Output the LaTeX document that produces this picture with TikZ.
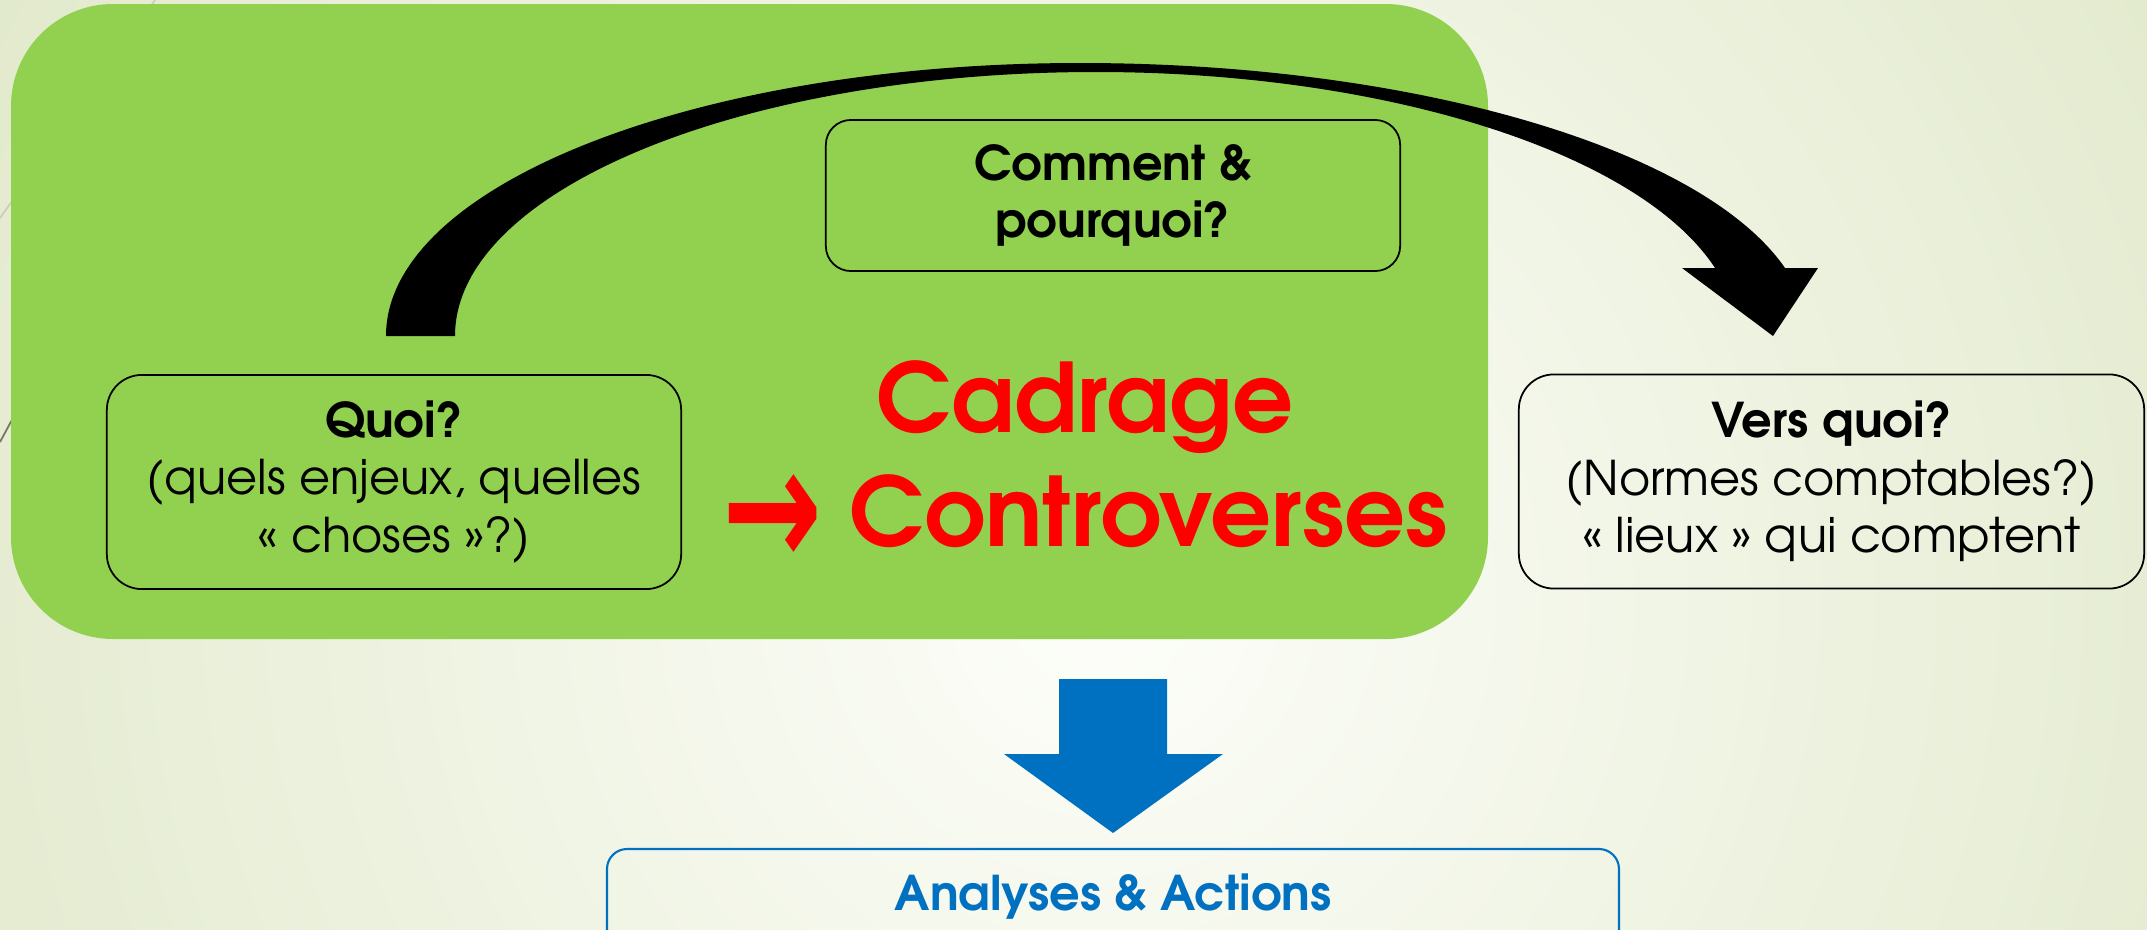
\documentclass[tikz,border=0pt]{standalone}
\usepackage{fontspec}
\setmainfont{TeX Gyre Adventor}
\newfontfamily\symbfont{DejaVu Sans}
\usetikzlibrary{positioning}

\definecolor{slidegreen}{HTML}{92D050}
\definecolor{slidered}{HTML}{FF0000}
\definecolor{slideblue}{HTML}{0070C0}
\definecolor{bgin}{HTML}{FDFEFA}
\definecolor{bgout}{HTML}{E1E9CB}
\definecolor{wisp}{HTML}{C9CCBE}
\definecolor{wispdark}{HTML}{7A7468}

\tikzset{
  qbox/.style={draw=black, line width=0.5pt, rounded corners=0.35cm,
    minimum width=5.74cm, minimum height=2.14cm, inner sep=0pt,
    align=center, font=\fontsize{13.6}{16.3}\selectfont},
  bigred/.style={text=slidered, anchor=base, inner sep=0pt,
    font=\bfseries\fontsize{27.2}{33}\selectfont},
}

\begin{document}
\begin{tikzpicture}[x=0.01cm, y=-0.01cm]
\useasboundingbox (0,0) rectangle (2147,930);

% background
\begin{scope}
\clip (0,0) rectangle (2147,930);
\fill[bgout] (0,0) rectangle (2147,930);
\shade[inner color=bgin, outer color=bgout] (1100,600) circle[radius=13cm];
\end{scope}
\draw[wisp, line width=0.45pt] (155,0) -- (0,218);
\draw[wispdark, line width=0.5pt] (0,442) -- (40,368);

% green block
\fill[slidegreen, rounded corners=1.02cm] (11,4) rectangle (1488,639);

% curved arrow
\fill[black] (386,336) .. controls (386,185) and (697,63) .. (1080,63)
  .. controls (1412,63) and (1702,148) .. (1785,268)
  -- (1818,268) -- (1773,336) -- (1682,268) -- (1715,268)
  .. controls (1640,153) and (1386,72) .. (1096,72)
  .. controls (742,72) and (455,190) .. (455,336) -- cycle;

\node[qbox] (quoi) at (394,482) {\textbf{Quoi?}\\(quels enjeux, quelles\\« choses »?)};
\node[qbox, minimum height=1.51cm, rounded corners=0.25cm,
  font=\bfseries\fontsize{13.6}{16.3}\selectfont] (comment) at (1113,195.5) {\raisebox{-0.2em}{Comment \&}\\\raisebox{-0.2em}{pourquoi?}};
\node[qbox, minimum width=6.25cm] (vers) at (1831.5,481.5) {\textbf{Vers quoi?}\\(Normes comptables?)\\« lieux » qui comptent};

\node[bigred] (cadrage) at (1085,432) {Cadrage};
\node[bigred] (contro) at (1085,546) {\raisebox{-0.22em}{\scalebox{1.25}[1.8]{\symbfont →}} Controverses};

% down arrow
\fill[slideblue] (1059,679) -- (1167,679) -- (1167,754) -- (1223,754)
  -- (1113,833) -- (1004,754) -- (1059,754) -- cycle;

\draw[slideblue, line width=0.6pt, rounded corners=0.2cm] (607,930) -- (607,849) -- (1619,849) -- (1619,930);
\node[text=slideblue, anchor=base, inner sep=0pt,
  font=\bfseries\fontsize{13.6}{16.3}\selectfont] (analyses) at (1113,910) {Analyses \& Actions};
\end{tikzpicture}
\end{document}
